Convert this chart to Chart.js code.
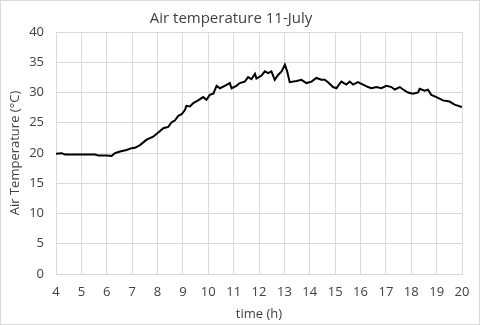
<!DOCTYPE html>
<html>
<head>
<meta charset="utf-8">
<script src="https://cdn.jsdelivr.net/npm/chart.js@4"></script>
<style>
  body { margin: 0; background: #fff; }
</style>
</head>
<body>
<canvas id="temp" width="480" height="325"></canvas>
<script>
// time of day (h) and air temperature (°C)
const hours = [4.00, 4.22, 4.35, 4.95, 5.54, 5.67, 6.00, 6.19, 6.32, 6.52, 6.78, 6.98, 7.11, 7.31, 7.57, 7.83,
  8.03, 8.23, 8.42, 8.55, 8.69, 8.82, 8.95, 9.08, 9.14, 9.28, 9.41, 9.60, 9.80, 9.93, 10.06, 10.20,
  10.33, 10.46, 10.65, 10.85, 10.92, 11.11, 11.24, 11.44, 11.57, 11.70, 11.84, 11.90, 12.10, 12.23, 12.36, 12.49,
  12.62, 12.75, 12.89, 13.02, 13.11, 13.21, 13.48, 13.67, 13.87, 14.07, 14.26, 14.46, 14.59, 14.72, 14.92, 15.05,
  15.18, 15.25, 15.44, 15.58, 15.71, 15.90, 16.10, 16.30, 16.43, 16.63, 16.82, 17.02, 17.22, 17.35, 17.55, 17.68,
  17.87, 18.07, 18.27, 18.33, 18.53, 18.66, 18.79, 18.99, 19.25, 19.51, 19.71, 20.00];
const airTemp = [19.86, 19.97, 19.75, 19.75, 19.75, 19.6, 19.6, 19.5, 19.97, 20.25, 20.5, 20.8, 20.85, 21.3, 22.2, 22.7,
  23.4, 24.1, 24.3, 25.05, 25.4, 26.15, 26.4, 27.1, 27.8, 27.7, 28.25, 28.7, 29.24, 28.8, 29.6, 29.8,
  31.1, 30.7, 31.1, 31.56, 30.7, 31.1, 31.56, 31.8, 32.55, 32.2, 33.1, 32.3, 32.8, 33.5, 33.2, 33.5,
  32.1, 32.9, 33.5, 34.6, 33.5, 31.7, 31.9, 32.1, 31.56, 31.8, 32.4, 32.1, 32.1, 31.7, 30.9, 30.7,
  31.45, 31.8, 31.3, 31.8, 31.3, 31.7, 31.3, 30.9, 30.7, 30.9, 30.7, 31.1, 30.9, 30.5, 30.9, 30.5,
  30.0, 29.8, 30.0, 30.6, 30.3, 30.45, 29.6, 29.24, 28.7, 28.5, 28.0, 27.6];

const textCol = '#404040';
const gridCol = '#d9d9d9';

const frame = {
  id: 'frame',
  afterDraw(chart) {
    const c = chart.ctx;
    c.save();
    c.strokeStyle = gridCol;
    c.lineWidth = 1;
    c.strokeRect(0.5, 0.5, chart.width - 1, chart.height - 1);
    c.restore();
  }
};

const ctx = document.getElementById('temp').getContext('2d');
const chart = new Chart(ctx, {
  type: 'line',
  data: {
    datasets: [{
      data: hours.map((h, i) => ({ x: h, y: airTemp[i] })),
      borderColor: '#000',
      borderWidth: 2,
      pointRadius: 0,
      tension: 0,
      fill: false
    }]
  },
  options: {
    responsive: false,
    animation: false,
    layout: { padding: { top: 0, right: 18, bottom: 0, left: 0 } },
    plugins: {
      legend: { display: false },
      tooltip: { enabled: false },
      title: {
        display: true,
        text: 'Air temperature 11-July',
        color: textCol,
        font: { family: 'Open Sans', size: 15, weight: 'normal' },
        padding: { top: 10, bottom: 4 }
      }
    },
    scales: {
      x: {
        type: 'linear',
        min: 4,
        max: 20,
        ticks: { stepSize: 1, color: textCol, padding: 10, font: { family: 'Open Sans', size: 13 } },
        grid: { color: gridCol, drawTicks: false },
        border: { color: gridCol },
        title: { display: true, text: 'time (h)', color: textCol, font: { family: 'Open Sans', size: 13 }, padding: { top: 0, bottom: 3 } },
        afterFit: s => { s.height = 51; }
      },
      y: {
        min: 0,
        max: 40,
        ticks: { stepSize: 5, color: textCol, padding: 12, font: { family: 'Open Sans', size: 13 } },
        grid: { color: gridCol, drawTicks: false },
        border: { color: gridCol },
        title: { display: true, text: 'Air Temperature (°C)', color: textCol, font: { family: 'Open Sans', size: 13 }, padding: { top: 7, bottom: 0 } },
        afterFit: s => { s.width = 56; }
      }
    }
  },
  plugins: [frame]
});
</script>
</body>
</html>
